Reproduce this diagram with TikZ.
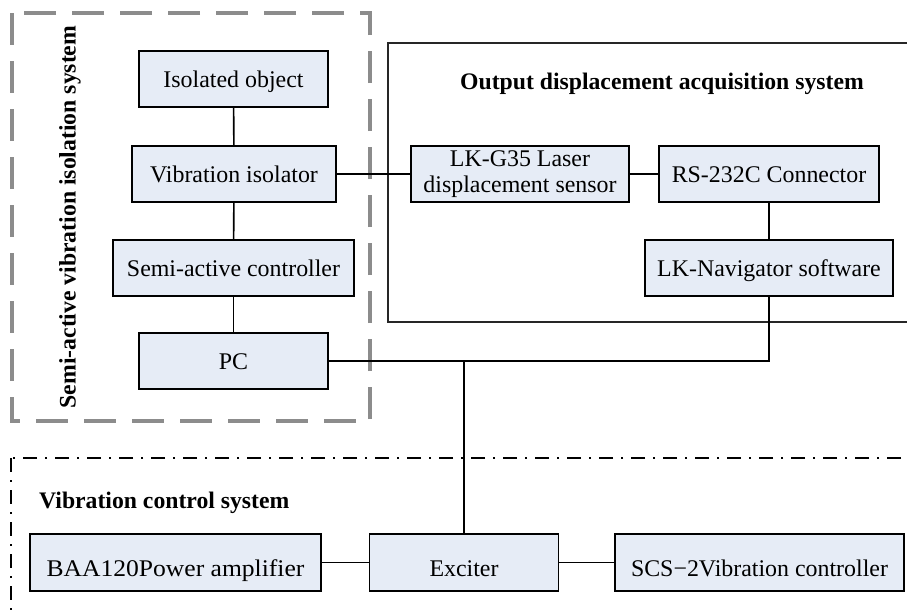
\documentclass[tikz,border=0pt]{standalone}
\usepackage{fontspec}
\setmainfont{Liberation Serif}
\newfontfamily\widefont[FakeStretch=1.07]{Liberation Serif}
\definecolor{boxfill}{HTML}{E6ECF6}
\definecolor{dashgray}{HTML}{8C8C8C}
\begin{document}
\begin{tikzpicture}[x=1pt,y=-1pt,
  blk/.style={draw=black, line width=1.7pt, fill=boxfill, inner sep=0pt, align=center,
    font=\fontsize{23.9}{28}\selectfont, minimum height=56pt},
  upper/.style={text height=17pt, text depth=0pt},
  lower/.style={text height=28pt, text depth=0pt, minimum height=57pt},
  conn/.style={draw=black, line width=1.6pt},
  ttl/.style={font=\fontsize{23.7}{28}\selectfont\bfseries, inner sep=0pt},
  grpdash/.style={draw=dashgray, line width=3.2pt, dash pattern=on 32pt off 16pt},
  grpsolid/.style={draw=black!85, line width=1.6pt},
  grpdashdot/.style={draw=black, line width=1.4pt, dash pattern=on 14pt off 8pt on 2pt off 8pt}]
\useasboundingbox (0,0) rectangle (907,611);
\clip (0,0) rectangle (907,611);
\fill[white] (0,0) rectangle (907,611);

% group frames
\draw[grpdash] (12,13) rectangle (370,421);
\draw[grpsolid] (388,43) rectangle (930,322);
\draw[grpdashdot] (11,458) rectangle (930,640);

% group titles
\node[ttl, rotate=90] (tsemi) at (70,217) {Semi-active vibration isolation system};
\node[ttl] (tout) at (662,84) {Output displacement acquisition system};
\node[ttl, anchor=west] (tvib) at (39,503) {Vibration control system};

% blocks
\node[blk, upper, minimum width=189pt] (iso) at (233.5,79) {Isolated object};
\node[blk, upper, minimum width=204pt] (vib) at (234,174) {Vibration isolator};
\node[blk, upper, minimum width=241pt] (semi) at (233.5,268) {Semi-active controller};
\node[blk, upper, minimum width=189pt] (pc) at (233.5,361) {PC};
\node[blk, minimum width=218pt] (lk) at (520,174) {\raisebox{-2pt}{\begin{tabular}{@{}c@{}}LK-G35 Laser\\[-2pt]displacement sensor\end{tabular}}};
\node[blk, upper, minimum width=220pt] (rs) at (769,174) {RS-232C Connector};
\node[blk, upper, minimum width=248pt] (nav) at (769,268) {LK-Navigator software};
\node[blk, lower, minimum width=291pt] (baa) at (175.5,562.5) {\widefont BAA120Power amplifier};
\node[blk, lower, minimum width=189pt] (exc) at (464,562.5) {Exciter};
\node[blk, lower, minimum width=289pt] (scs) at (759.5,562.5) {SCS−2Vibration controller};

% connectors
\coordinate (jn) at (exc.north |- pc.east);
\draw[conn] (iso) -- (vib);
\draw[conn] (vib) -- (semi);
\draw[conn] (semi) -- (pc);
\draw[conn] (vib) -- (lk);
\draw[conn] (lk) -- (rs);
\draw[conn] (rs) -- (nav);
\draw[conn] (nav.south) |- (pc.east);
\draw[conn] (jn) -- (exc.north);
\draw[conn] (baa) -- (exc);
\draw[conn] (exc) -- (scs);
\end{tikzpicture}
\end{document}
